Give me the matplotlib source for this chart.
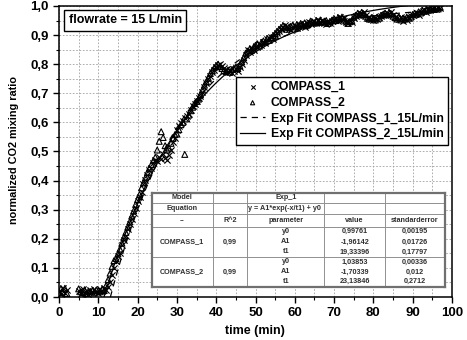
import numpy as np
import matplotlib
matplotlib.use("Agg")
import matplotlib.pyplot as plt
from matplotlib.ticker import MultipleLocator, FuncFormatter

plt.rcParams['font.family'] = ['Liberation Sans', 'DejaVu Sans']
plt.rcParams['font.weight'] = 'bold'

# -----------------------------------------------------------------------------
# Data
# -----------------------------------------------------------------------------
# sampling times: short run at the start, gap, then the main run
t_first = np.arange(0.0, 2.01, 0.5)
t_main = np.arange(5.0, 97.01, 0.5)
time = np.concatenate([t_first, t_main])

compass1 = [
    0.020, 0.010, 0.030, 0.015, 0.025,
    0.020, 0.012, 0.026, 0.015, 0.022, 0.010, 0.024, 0.016, 0.028, 0.018,  # 5
    0.014, 0.026, 0.020, 0.030, 0.024, 0.034, 0.052, 0.075, 0.098, 0.122,  # 10
    0.140, 0.152, 0.178, 0.195, 0.210, 0.232, 0.250, 0.268, 0.290, 0.305,  # 15
    0.330, 0.345, 0.362, 0.388, 0.402, 0.418, 0.438, 0.445, 0.462, 0.470,  # 20
    0.468, 0.482, 0.474, 0.490, 0.478, 0.470, 0.488, 0.505, 0.532, 0.548,  # 25
    0.575, 0.588, 0.598, 0.604, 0.615, 0.622, 0.630, 0.642, 0.655, 0.662,  # 30
    0.675, 0.684, 0.690, 0.705, 0.722, 0.735, 0.748, 0.760, 0.772, 0.780,  # 35
    0.790, 0.798, 0.802, 0.795, 0.788, 0.780, 0.772, 0.776, 0.770, 0.778,  # 40
    0.782, 0.778, 0.790, 0.800, 0.815, 0.832, 0.848, 0.842, 0.855, 0.850,  # 45
    0.862, 0.858, 0.870, 0.866, 0.878, 0.872, 0.885, 0.890, 0.895, 0.888,  # 50
    0.900, 0.908, 0.915, 0.922, 0.928, 0.935, 0.930, 0.922, 0.918, 0.928,  # 55
    0.932, 0.926, 0.938, 0.930, 0.935, 0.928, 0.940, 0.945, 0.938, 0.942,  # 60
    0.948, 0.940, 0.952, 0.945, 0.950, 0.942, 0.938, 0.945, 0.940, 0.948,  # 65
    0.952, 0.958, 0.950, 0.962, 0.955, 0.960, 0.945, 0.942, 0.950, 0.945,  # 70
    0.958, 0.965, 0.970, 0.975, 0.972, 0.978, 0.968, 0.960, 0.962, 0.955,  # 75
    0.952, 0.958, 0.955, 0.962, 0.965, 0.970, 0.968, 0.975, 0.972, 0.978,  # 80
    0.970, 0.962, 0.958, 0.955, 0.962, 0.950, 0.958, 0.952, 0.960, 0.965,  # 85
    0.968, 0.972, 0.975, 0.970, 0.978, 0.982, 0.985, 0.980, 0.988, 0.985,  # 90
    0.990, 0.992, 0.988, 0.995, 0.992,                                     # 95
]

compass2 = [
    0.015, 0.028, 0.018, 0.030, 0.012,
    0.028, 0.018, 0.015, 0.025, 0.012, 0.020, 0.018, 0.022, 0.014, 0.024,  # 5
    0.022, 0.018, 0.028, 0.022, 0.040, 0.060, 0.082, 0.105, 0.125, 0.132,  # 10
    0.148, 0.165, 0.185, 0.205, 0.222, 0.240, 0.258, 0.278, 0.296, 0.318,  # 15
    0.335, 0.352, 0.375, 0.392, 0.410, 0.428, 0.442, 0.455, 0.468, 0.480,  # 20
    0.505, 0.535, 0.568, 0.548, 0.520, 0.505, 0.512, 0.528, 0.545, 0.558,  # 25
    0.560, 0.575, 0.592, 0.600, 0.490, 0.612, 0.625, 0.640, 0.652, 0.665,  # 30
    0.672, 0.680, 0.695, 0.712, 0.728, 0.740, 0.752, 0.768, 0.778, 0.788,  # 35
    0.795, 0.800, 0.792, 0.785, 0.778, 0.775, 0.780, 0.772, 0.782, 0.786,  # 40
    0.790, 0.785, 0.795, 0.808, 0.822, 0.838, 0.845, 0.852, 0.848, 0.858,  # 45
    0.865, 0.870, 0.862, 0.875, 0.880, 0.876, 0.888, 0.882, 0.892, 0.898,  # 50
    0.905, 0.912, 0.920, 0.925, 0.932, 0.928, 0.920, 0.926, 0.930, 0.935,  # 55
    0.928, 0.935, 0.932, 0.940, 0.936, 0.942, 0.935, 0.940, 0.948, 0.944,  # 60
    0.942, 0.950, 0.946, 0.952, 0.944, 0.948, 0.950, 0.940, 0.946, 0.952,  # 65
    0.955, 0.950, 0.960, 0.956, 0.962, 0.952, 0.948, 0.940, 0.946, 0.950,  # 70
    0.962, 0.968, 0.975, 0.970, 0.978, 0.972, 0.965, 0.958, 0.955, 0.960,  # 75
    0.958, 0.952, 0.962, 0.958, 0.968, 0.972, 0.975, 0.970, 0.978, 0.974,  # 80
    0.965, 0.960, 0.955, 0.962, 0.952, 0.958, 0.955, 0.962, 0.958, 0.962,  # 85
    0.970, 0.975, 0.972, 0.980, 0.976, 0.985, 0.982, 0.988, 0.985, 0.990,  # 90
    0.992, 0.988, 0.995, 0.990, 0.996,                                     # 95
]

# exponential fit parameters y = A1*exp(-x/t1) + y0 (from the table)
fit_names = ['COMPASS_1', 'COMPASS_2']
fit_r2 = ['0,99', '0,99']
fit_params = ['y0', 'A1', 't1']
fit1_vals = [0.99761, -1.96142, 19.33396]
fit1_err = ['0,00195', '0,01726', '0,17797']
fit2_vals = [1.03853, -1.70339, 23.13846]
fit2_err = ['0,00336', '0,012', '0,2712']


def exp_fit(x, p):
    y0, a1, t1 = p
    return a1 * np.exp(-x / t1) + y0


def comma(v, digits=5):
    return f"{v:.{digits}f}".replace('.', ',')


# -----------------------------------------------------------------------------
# Figure
# -----------------------------------------------------------------------------
W, H = 467, 340
fig = plt.figure(figsize=(W / 100, H / 100), dpi=100)
ax = fig.add_axes([59 / W, 1 - 297 / H, 393 / W, 291 / H])

ax.scatter(time, compass1, marker='x', s=20, c='black', linewidths=0.8,
           label='COMPASS_1', zorder=3)
ax.scatter(time, compass2, marker='^', s=18, facecolors='none', edgecolors='black',
           linewidths=0.8, label='COMPASS_2', zorder=3)

xf = np.linspace(0, 97, 500)
ax.plot(xf, exp_fit(xf, fit1_vals), ls=(0, (5, 4)), color='black', lw=0.9,
        label='Exp Fit COMPASS_1_15L/min', zorder=4)
ax.plot(xf, exp_fit(xf, fit2_vals), ls='-', color='black', lw=0.9,
        label='Exp Fit COMPASS_2_15L/min', zorder=4)

ax.set_xlim(0, 100)
ax.set_ylim(0, 1.0)
ax.xaxis.set_major_locator(MultipleLocator(10))
ax.xaxis.set_minor_locator(MultipleLocator(5))
ax.yaxis.set_major_locator(MultipleLocator(0.1))
ax.yaxis.set_minor_locator(MultipleLocator(0.05))
ax.yaxis.set_major_formatter(FuncFormatter(lambda v, p: f"{v:.1f}".replace('.', ',')))
ax.grid(which='both', ls=(0, (2, 2)), color='#a0a0a0', lw=0.6)
ax.set_axisbelow(True)
ax.tick_params(which='major', direction='out', length=4, width=1, labelsize=9.5)
ax.tick_params(which='minor', direction='out', length=2, width=0.8)
for s in ax.spines.values():
    s.set_linewidth(1.1)
for lab in ax.get_xticklabels() + ax.get_yticklabels():
    lab.set_fontweight('bold')

fig.text(14 / W, 1 - 150 / H, 'normalized CO2 mixing ratio', rotation=90,
         ha='center', va='center', fontsize=7.8, fontweight='bold')
fig.text(255 / W, 1 - 331 / H, 'time (min)', ha='center', va='center',
         fontsize=9, fontweight='bold')

ax.text(0.025, 0.972, 'flowrate = 15 L/min', transform=ax.transAxes, ha='left', va='top',
        fontsize=9, fontweight='bold',
        bbox=dict(boxstyle='square,pad=0.35', fc='white', ec='black', lw=1))

leg = ax.legend(loc='upper right', bbox_to_anchor=(0.99, 0.756), borderaxespad=0,
                prop={'weight': 'bold', 'size': 8.8}, frameon=True, fancybox=False,
                edgecolor='black', framealpha=1, handlelength=2.0, handletextpad=0.5,
                labelspacing=0.3, borderpad=0.35, scatterpoints=1, markerscale=0.7)
leg.get_frame().set_linewidth(1)
leg.set_zorder(6)

# -----------------------------------------------------------------------------
# Fit results table (drawn in pixel coordinates on its own axes)
# -----------------------------------------------------------------------------
cx = [151.7, 212.7, 247.3, 324.3, 385.0, 445.0]
ry = [192.7, 202.7, 214.0, 226.7, 257.0, 286.7]
tab = fig.add_axes([cx[0] / W, 1 - ry[-1] / H, (cx[-1] - cx[0]) / W, (ry[-1] - ry[0]) / H])
tab.set_xlim(cx[0], cx[-1])
tab.set_ylim(ry[-1], ry[0])
tab.set_xticks([])
tab.set_yticks([])
tab.set_facecolor('white')
for s in tab.spines.values():
    s.set_color('#707070')
    s.set_linewidth(1.6)
tab.set_zorder(5)

line_c = '#909090'
for x in cx[1:-1]:
    tab.plot([x, x], [ry[0], ry[-1]], color=line_c, lw=0.7)
for y in ry[1:-1]:
    tab.plot([cx[0], cx[-1]], [y, y], color=line_c, lw=0.7)

tc = '#303030'
fs = 5.2


def cell(col, y, s, ha='center'):
    x = (cx[col] + cx[col + 1]) / 2 if ha == 'center' else cx[col] + 1
    tab.text(x, y, s, ha=ha, va='center', fontsize=fs, color=tc, fontweight='bold')


cell(0, (ry[0] + ry[1]) / 2, 'Model')
cell(2, (ry[0] + ry[1]) / 2, 'Exp_1')
cell(0, (ry[1] + ry[2]) / 2, 'Equation')
cell(2, (ry[1] + ry[2]) / 2, 'y = A1*exp(-x/t1) + y0', ha='left')
hy = (ry[2] + ry[3]) / 2
cell(0, hy, '--')
cell(1, hy, 'R^2')
cell(2, hy, 'parameter')
cell(3, hy, 'value')
cell(4, hy, 'standarderror')

for k, (name, r2, vals, errs) in enumerate(zip(fit_names, fit_r2, [fit1_vals, fit2_vals],
                                               [fit1_err, fit2_err])):
    top, bot = ry[3 + k], ry[4 + k]
    cell(0, (top + bot) / 2, name)
    cell(1, (top + bot) / 2, r2)
    step = (bot - top) / 3
    for j, par in enumerate(fit_params):
        y = top + step * (j + 0.5)
        cell(2, y, par)
        cell(3, y, comma(vals[j]))
        cell(4, y, errs[j])

fig.savefig('out.png', dpi=100)
